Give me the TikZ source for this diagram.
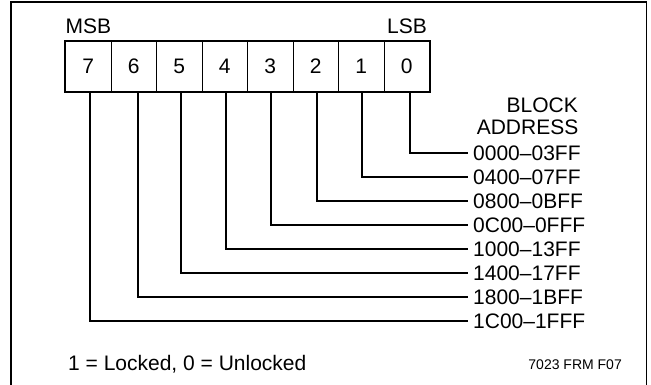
\documentclass[tikz,border=0pt]{standalone}
\usepackage{fontspec}
\setmainfont{Liberation Sans}
\usetikzlibrary{fit}
\begin{document}
\begin{tikzpicture}[x=1pt,y=-1pt,
  bigtxt/.style={font=\fontsize{21}{24}\selectfont, inner sep=0pt},
  cell/.style={draw, line width=1pt, minimum width=45.5pt, minimum height=50pt, inner sep=0pt, anchor=north west, font=\fontsize{21}{24}\selectfont},
  addr/.style={font=\fontsize{21}{24}\selectfont, inner xsep=5pt, inner ysep=0pt, anchor=west},
  conn/.style={line width=1.3pt},
  frame/.style={line width=1.5pt},
  regbox/.style={draw, line width=2.4pt, inner sep=0pt}]
\useasboundingbox (0,0) rectangle (651,385);
\draw[frame] (11,390) -- (11,2) -- (646.5,2) -- (646.5,390);
% register cells
\foreach \b [count=\i from 0] in {7,6,5,4,3,2,1,0} {
  \node[cell] (c\b) at (65+45.5*\i,41) {\b};
}
\node[regbox, fit=(c7)(c0)] (reg) {};
% labels
\node[bigtxt, anchor=base west] (msb) at (65.5,33.5) {MSB};
\node[bigtxt, anchor=base east] (lsb) at (427,33.5) {LSB};
\node[bigtxt, anchor=base east] (blk1) at (578,113) {BLOCK};
\node[bigtxt, anchor=base east] (blk2) at (578.5,135) {ADDRESS};
% address labels
\node[addr] (a0) at (468,153) {0000–03FF};
\node[addr] (a1) at (468,177) {0400–07FF};
\node[addr] (a2) at (468,201) {0800–0BFF};
\node[addr] (a3) at (468,225) {0C00–0FFF};
\node[addr] (a4) at (468,249) {1000–13FF};
\node[addr] (a5) at (468,273) {1400–17FF};
\node[addr] (a6) at (468,297) {1800–1BFF};
\node[addr] (a7) at (468,321) {1C00–1FFF};
% connectors
\draw[conn] ([xshift=3.25pt]c0.south) |- (a0.west);
\draw[conn] ([xshift=0.75pt]c1.south) |- (a1.west);
\draw[conn] ([xshift=1.25pt]c2.south) |- (a2.west);
\draw[conn] ([xshift=0.75pt]c3.south) |- (a3.west);
\draw[conn] ([xshift=1.25pt]c4.south) |- (a4.west);
\draw[conn] ([xshift=1.75pt]c5.south) |- (a5.west);
\draw[conn] ([xshift=4.25pt]c6.south) |- (a6.west);
\draw[conn] ([xshift=1.75pt]c7.south) |- (a7.west);
% legend
\node[bigtxt, anchor=base west] (legend) at (68,370) {1 = Locked, 0 = Unlocked};
\node[font=\fontsize{14}{16}\selectfont, inner sep=0pt, anchor=base east] (fig) at (622,369) {7023 FRM F07};
\end{tikzpicture}
\end{document}
